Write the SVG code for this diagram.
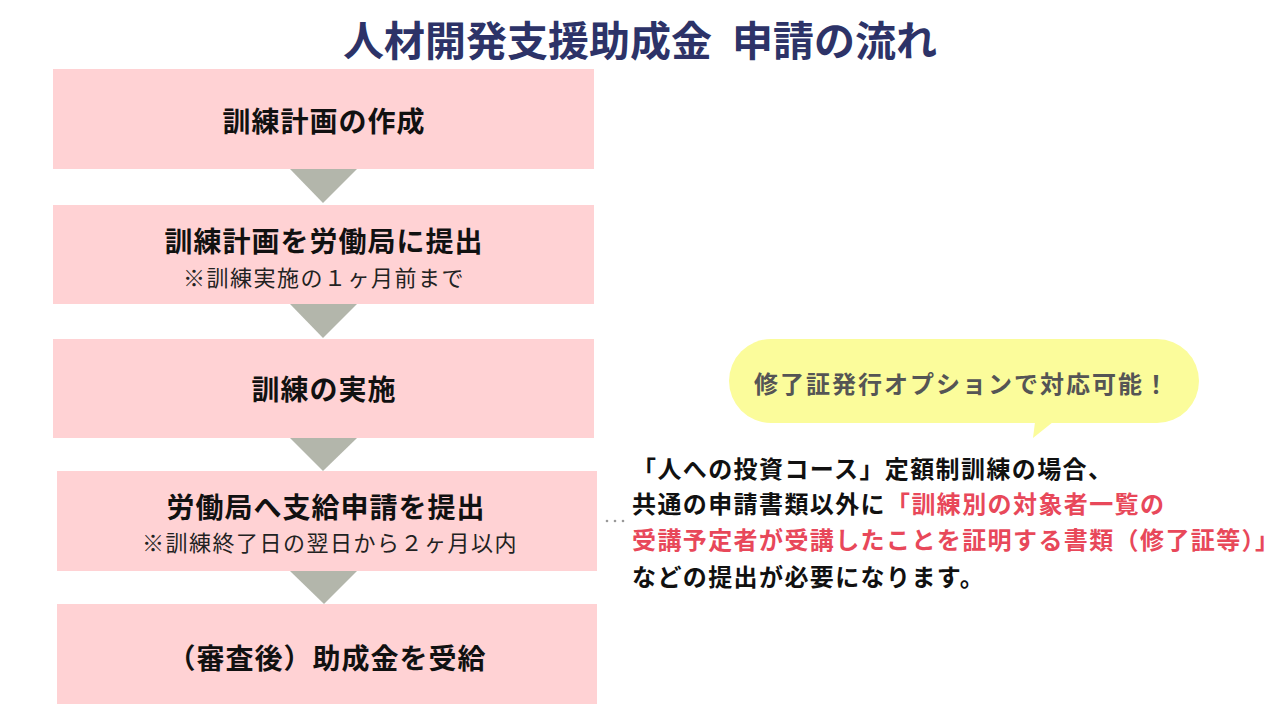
<svg xmlns="http://www.w3.org/2000/svg" width="1280" height="720" viewBox="0 0 1280 720">
<style>
text{font-family:"Noto Sans CJK JP","Noto Sans",sans-serif;}
.box{fill:#ffd2d4;}
.arr{fill:#b3b6ab;}
.main{font-size:28px;font-weight:bold;fill:#111;text-anchor:middle;letter-spacing:1px;}
.sub{font-size:22px;fill:#222;text-anchor:middle;letter-spacing:1.5px;}
.body{font-size:24px;font-weight:bold;fill:#111;letter-spacing:1.4px;}
.red{fill:#e8485a;}
</style>
<rect width="1280" height="720" fill="#fff"/>
<text x="640" y="38" font-size="41" font-weight="bold" fill="#2d3368" text-anchor="middle" dominant-baseline="central">人材開発支援助成金<tspan dx="20">申請の流れ</tspan></text>
<g id="connectors">
<polygon class="arr" points="290,169 357,169 323,203"/>
<polygon class="arr" points="290,304 357,304 323,338"/>
<polygon class="arr" points="290,438 357,438 323,471"/>
<polygon class="arr" points="290,571 357,571 324,604"/>
</g>
<g id="step1">
<rect class="box" x="53" y="69" width="541" height="100"/>
<text class="main" x="324" y="120" dominant-baseline="central">訓練計画の作成</text>
</g>
<g id="step2">
<rect class="box" x="53" y="205" width="541" height="99"/>
<text class="main" x="324" y="240" dominant-baseline="central">訓練計画を労働局に提出</text>
<text class="sub" x="324" y="276" dominant-baseline="central">※訓練実施の１ヶ月前まで</text>
</g>
<g id="step3">
<rect class="box" x="53" y="339" width="541" height="99"/>
<text class="main" x="324" y="388" dominant-baseline="central">訓練の実施</text>
</g>
<g id="step4">
<rect class="box" x="57" y="471" width="540" height="100"/>
<text class="main" x="326" y="506" dominant-baseline="central">労働局へ支給申請を提出</text>
<text class="sub" x="330" y="541" dominant-baseline="central">※訓練終了日の翌日から２ヶ月以内</text>
</g>
<g id="step5">
<rect class="box" x="57" y="604" width="540" height="100"/>
<text class="main" x="327" y="657" dominant-baseline="central">（審査後）助成金を受給</text>
</g>
<g id="dots" fill="#999">
<circle cx="607" cy="521" r="1.3"/>
<circle cx="615" cy="521" r="1.3"/>
<circle cx="623" cy="521" r="1.3"/>
</g>
<g id="bubble">
<rect x="729" y="339" width="470" height="84" rx="42" fill="#fbfc9b"/>
<polygon points="1035,422 1053,422 1033,438" fill="#fbfc9b"/>
<text x="962" y="382" font-size="24" font-weight="bold" fill="#555" text-anchor="middle" dominant-baseline="central" letter-spacing="2">修了証発行オプションで対応可能！</text>
</g>
<g id="note">
<text class="body" x="632" y="467" dominant-baseline="central">「人への投資コース」定額制訓練の場合、</text>
<text class="body" x="632" y="502" dominant-baseline="central">共通の申請書類以外に<tspan class="red">「訓練別の対象者一覧の</tspan></text>
<text class="body red" x="632" y="538" dominant-baseline="central">受講予定者が受講したことを証明する書類（修了証等）」</text>
<text class="body" x="632" y="575" dominant-baseline="central">などの提出が必要になります。</text>
</g>
</svg>
